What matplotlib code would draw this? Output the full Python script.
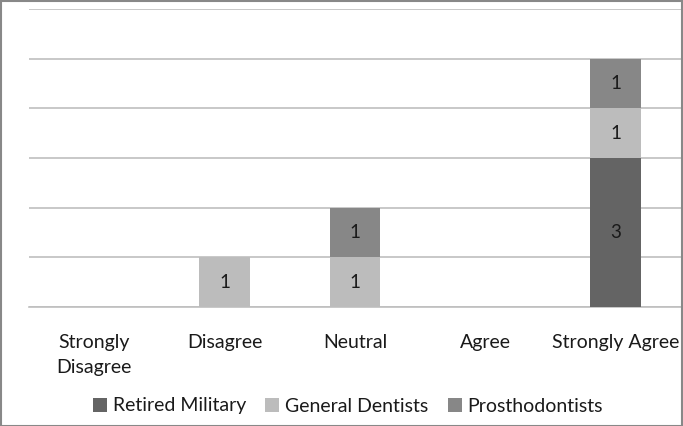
import numpy as np
import matplotlib.pyplot as plt
from matplotlib.patches import Rectangle

categories = ["Strongly\nDisagree", "Disagree", "Neutral", "Agree", "Strongly Agree"]
retired_military = [0, 0, 0, 0, 3]
general_dentists = [0, 1, 1, 0, 1]
prosthodontists = [0, 0, 1, 0, 1]

series = [
    ("Retired Military", retired_military, "#646464"),
    ("General Dentists", general_dentists, "#bcbcbc"),
    ("Prosthodontists", prosthodontists, "#878787"),
]

plt.rcParams['font.family'] = ['Lato', 'DejaVu Sans']

fig = plt.figure(figsize=(6.83, 4.26), dpi=100)
ax = fig.add_axes([29 / 683, 1 - 307 / 426, 652 / 683, 298 / 426])

x = np.arange(len(categories))
bottom = np.zeros(len(categories))
for name, vals, color in series:
    vals = np.array(vals, dtype=float)
    ax.bar(x, vals, width=0.39, bottom=bottom, color=color, label=name, zorder=3)
    for xi, v, b in zip(x, vals, bottom):
        if v > 0:
            ax.text(xi, b + v / 2, f"{int(v)}", ha='center', va='center',
                    fontsize=13.5, color='#1a1a1a', zorder=4)
    bottom += vals

ax.set_xlim(-0.5, len(categories) - 0.5)
ax.set_ylim(0, 6)
ax.set_yticks(range(0, 7))
ax.yaxis.grid(True, color='#bfbfbf', linewidth=1.2, zorder=0)
ax.tick_params(axis='y', left=False, labelleft=False)
ax.tick_params(axis='x', bottom=False, labelsize=14, pad=16, colors='#1a1a1a')
ax.set_xticks(x)
ax.set_xticklabels(categories, linespacing=1.6)
for s in ['left', 'right', 'top']:
    ax.spines[s].set_visible(False)
ax.spines['bottom'].set_color('#bfbfbf')
ax.spines['bottom'].set_linewidth(1.2)

leg = fig.legend(loc='center', bbox_to_anchor=(348 / 683, 1 - 406 / 426), ncol=3,
                 frameon=False, fontsize=14, handlelength=0.72, handleheight=0.72,
                 handletextpad=0.3, columnspacing=1.0)
for t in leg.get_texts():
    t.set_color('#1a1a1a')

fig.patches.append(Rectangle((0.001, 0.001), 0.997, 0.997, transform=fig.transFigure,
                             fill=False, edgecolor='#888888', linewidth=1.5))

fig.savefig("out.png", dpi=100)
